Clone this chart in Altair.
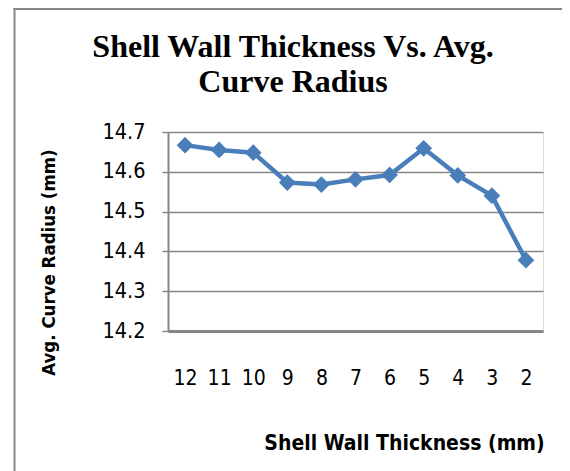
import altair as alt
import pandas as pd

thickness = ["12", "11", "10", "9", "8", "7", "6", "5", "4", "3", "2"]
radius = [14.667, 14.655, 14.648, 14.573, 14.568, 14.581, 14.592, 14.659, 14.591, 14.540, 14.378]
title_text = "Shell Wall Thickness Vs. Avg.\nCurve Radius"

df = pd.DataFrame({"t": thickness, "r": radius})
tdf = pd.DataFrame({"title": [title_text]})

W, H = 375, 199
PL, PT = 160, 124
PB = 463 - PT - H
PR = 554 - PL - W

NARROW = "DejaVu Sans Condensed, Liberation Sans Narrow, sans-serif"
GRAY = "#868686"
BLUE = "#4A7EBB"

x = alt.X("t:N", sort=thickness, scale=alt.Scale(type="point", padding=0.5),
          axis=alt.Axis(title="Shell Wall Thickness (mm)", labelAngle=0, ticks=False,
                        labelPadding=36, labelFontSize=21, labelFont=NARROW, labelColor="#000",
                        domainColor=GRAY, domainWidth=3,
                        titleFont=NARROW, titleFontSize=21, titleFontWeight="bold", titleColor="#000",
                        titleX=236, titleY=112, titleBaseline="middle", titleAlign="center",
                        grid=False))
y = alt.Y("r:Q", scale=alt.Scale(domain=[14.2, 14.7], nice=False, zero=False),
          axis=alt.Axis(title="Avg. Curve Radius (mm)", values=[14.2, 14.3, 14.4, 14.5, 14.6, 14.7],
                        format=".1f", tickSize=6, tickColor=GRAY, tickWidth=1.5,
                        labelPadding=17, labelFontSize=21.5, labelFont=NARROW, labelColor="#000",
                        domainColor=GRAY, domainWidth=2,
                        gridColor=GRAY, gridWidth=1.5,
                        titleFont=NARROW, titleFontSize=18.5, titleFontWeight="bold", titleColor="#000",
                        titleX=-120, titleY=130, titleAngle=270, titleBaseline="middle",
                        titleAlign="center"))

line = alt.Chart(df).mark_line(color=BLUE, strokeWidth=4.5).encode(x=x, y=y)
pts = alt.Chart(df).mark_point(shape="diamond", filled=True, size=280, color=BLUE, opacity=1).encode(x=x, y=y)

title = alt.Chart(tdf).mark_text(font="Liberation Serif", fontSize=32, fontWeight="bold",
                                 color="#000", align="center", baseline="alphabetic",
                                 lineBreak="\n", lineHeight=35).encode(
    text="title:N", x=alt.value(125), y=alt.value(-75))

frame_left = alt.Chart(tdf).mark_rule(color=GRAY, strokeWidth=2).encode(
    x=alt.value(-153.5), y=alt.value(-124), y2=alt.value(H + PB))
frame_top = alt.Chart(tdf).mark_rule(color=GRAY, strokeWidth=2).encode(
    x=alt.value(-154.5), x2=alt.value(W + PR), y=alt.value(-123))

chart = alt.layer(frame_left, frame_top, title, line, pts).properties(
    width=W, height=H,
    autosize=alt.AutoSizeParams(type="none"),
    padding={"left": PL, "top": PT, "right": PR, "bottom": PB},
).configure_view(stroke=None).configure(background="white")

chart.save("out.html", embed_options={"renderer": "svg", "actions": False})
